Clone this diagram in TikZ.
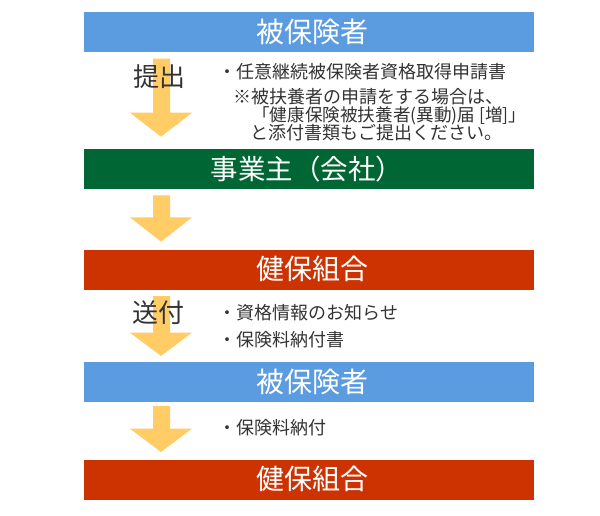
\documentclass[tikz,border=0pt]{standalone}
\usepackage{fontspec}
\newfontfamily\jp{Noto Sans CJK JP}
\definecolor{barblue}{RGB}{91,155,224}
\definecolor{bargreen}{RGB}{0,102,51}
\definecolor{barred}{RGB}{204,51,0}
\definecolor{arrowyel}{RGB}{255,204,102}
\definecolor{txtgray}{RGB}{51,51,51}
\begin{document}
\begin{tikzpicture}[x=1pt,y=-1pt,
  bar/.style={draw=none,minimum width=450pt,minimum height=40pt,inner sep=0pt,anchor=north west},
  bartext/.style={text=white,font=\jp\fontsize{28}{28}\selectfont,inner sep=0pt},
  biglabel/.style={text=txtgray,font=\jp\fontsize{26}{26}\selectfont,inner sep=0pt},
  note/.style={text=txtgray,font=\jp\fontsize{18}{18}\selectfont,inner sep=0pt,anchor=west},
  blockarrow/.style={fill=arrowyel,draw=none}]
\useasboundingbox (0,0) rectangle (600,516);
% bars
\node[bar,fill=barblue] (b1) at (84,12) {};
\node[bar,fill=bargreen] (b2) at (84,149) {};
\node[bar,fill=barred] (b3) at (84,249.3) {};
\node[bar,fill=barblue] (b4) at (84,361.7) {};
\node[bar,fill=barred] (b5) at (84,459.3) {};
% bar texts
\node[bartext] (t1) at (312,32) {被保険者};
\node[bartext,font=\jp\fontsize{27.5}{27.5}\selectfont] (t2) at (307,169) {事業主（会社）};
\node[bartext] (t3) at (312,269.3) {健保組合};
\node[bartext] (t4) at (312,381.7) {被保険者};
\node[bartext] (t5) at (312,479.3) {健保組合};
% block arrows
\foreach \top/\base/\tip in {58.7/112.7/136.7, 195.3/217.3/241.7, 296/332.7/356, 406/428.7/452}{
  \fill[blockarrow] (153,\top) -- (170,\top) -- (170,\base) -- (192,\base) -- (161,\tip) -- (130,\base) -- (153,\base) -- cycle;
}
% labels
\node[biglabel] (l1) at (159.5,77) {提出};
\node[biglabel] (l2) at (158,313) {送付};
% notes
\node[note] (n1) at (218.5,72) {・任意継続被保険者資格取得申請書};
\node[note] (n2) at (233.5,97) {※被扶養者の申請をする場合は、};
\node[note,font=\jp\fontsize{17.6}{17.6}\selectfont] (n3) at (252,116) {「健康保険被扶養者(異動)届 [増]」};
\node[note] (n4) at (250,133) {と添付書類もご提出ください。};
\node[note] (n5) at (218.5,313) {・資格情報のお知らせ};
\node[note] (n6) at (218.5,340) {・保険料納付書};
\node[note] (n7) at (218.5,428) {・保険料納付};
\end{tikzpicture}
\end{document}
